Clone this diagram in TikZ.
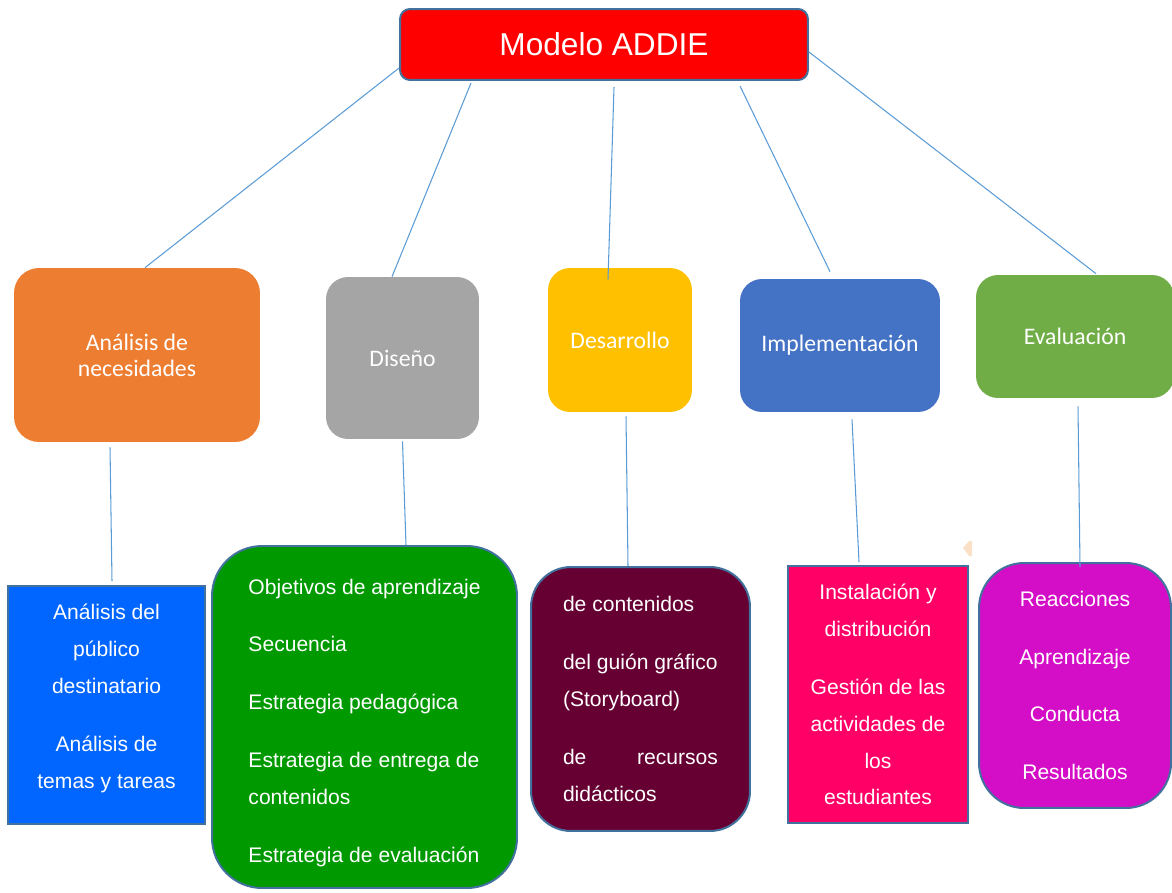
\documentclass[tikz,border=0pt]{standalone}
\usepackage{fontspec}
\setmainfont{Liberation Sans}
\newfontfamily\calibri{Carlito}
\definecolor{addiered}{HTML}{FF0000}
\definecolor{needorange}{HTML}{ED7D31}
\definecolor{designgray}{HTML}{A5A5A5}
\definecolor{devyellow}{HTML}{FFC000}
\definecolor{implblue}{HTML}{4472C4}
\definecolor{evalgreen}{HTML}{70AD47}
\definecolor{audblue}{HTML}{0066FF}
\definecolor{plangreen}{HTML}{009900}
\definecolor{resmaroon}{HTML}{660033}
\definecolor{installpink}{HTML}{FF0066}
\definecolor{levelmagenta}{HTML}{D40DC6}
\definecolor{edgeblue}{HTML}{41719C}
\definecolor{linkblue}{HTML}{5B9BD5}
\definecolor{peach}{HTML}{FBE0C8}
\tikzset{
  stage/.style={rounded corners=0.44cm, inner sep=0pt, text=white, align=center,
                font=\calibri\fontsize{13.5}{14.8}\selectfont},
  task/.style={draw=edgeblue, line width=0.04cm, inner sep=0pt, text=white,
               font=\fontsize{12}{21}\selectfont},
  link/.style={draw=linkblue, line width=0.6pt},
}
\begin{document}
\begin{tikzpicture}[x=0.02cm, y=-0.02cm]
\useasboundingbox (0,0) rectangle (1172,892);

\node[fill=addiered, draw=edgeblue, line width=0.04cm, rounded corners=0.2cm,
      minimum width=8.16cm, minimum height=1.42cm, text=white,
      font=\fontsize{18}{22}\selectfont] (top) at (604,44.5) {Modelo ADDIE};

\node[stage, fill=needorange, rounded corners=0.5cm, minimum width=4.92cm, minimum height=3.48cm]
  (need) at (137,355) {Análisis de\\necesidades};
\node[stage, fill=designgray, minimum width=3.06cm, minimum height=3.24cm]
  (design) at (402.5,358) {Diseño};
\node[stage, fill=devyellow, minimum width=2.88cm, minimum height=2.88cm]
  (develop) at (620,340) {Desarrollo};
\node[stage, fill=implblue, minimum width=4cm, minimum height=2.66cm]
  (implement) at (840,345.5) {Implementación};
\node[stage, fill=evalgreen, minimum width=3.96cm, minimum height=2.46cm]
  (evaluate) at (1075,336.5) {Evaluación};

\node[task, fill=audblue, align=center, minimum width=3.94cm, minimum height=4.76cm]
  (audience) at (106.5,705)
  {Análisis del\\público\\destinatario\\[0.42cm]Análisis de\\temas y tareas\\[-0.38cm]\mbox{}};
\node[task, fill=plangreen, align=left, rounded corners=1cm, minimum width=6.1cm, minimum height=6.84cm]
  (plan) at (364.5,717)
  {\mbox{}\\[-0.2cm]Objetivos de aprendizaje\\[0.42cm]Secuencia\\[0.42cm]Estrategia pedagógica\\[0.42cm]%
   Estrategia de entrega de\\contenidos\\[0.42cm]Estrategia de evaluación};
\node[task, fill=resmaroon, align=left, rounded corners=0.8cm, minimum width=4.38cm, minimum height=5.28cm]
  (resources) at (640.5,699)
  {de contenidos\\[0.42cm]del guión gráfico\\(Storyboard)\\[0.42cm]%
   \hbox to 3.1cm{de\hfill recursos}\\didácticos};
\node[task, fill=installpink, align=center, minimum width=3.6cm, minimum height=5.14cm]
  (install) at (878,694.5)
  {Instalación y\\distribución\\[0.42cm]Gestión de las\\actividades de\\los\\estudiantes};
\node[task, fill=levelmagenta, align=center, rounded corners=0.9cm, minimum width=3.84cm, minimum height=4.9cm]
  (levels) at (1075,685.5)
  {Reacciones\\[0.42cm]Aprendizaje\\[0.42cm]Conducta\\[0.42cm]Resultados};

\fill[peach] (963,548) -- (969,541) -- (972,541) -- (972,556) -- (969,556) -- cycle;

\draw[link] ([yshift=-0.47cm]top.west) -- ([xshift=0.16cm]need.north);
\draw[link] ([xshift=-2.66cm,yshift=-0.04cm]top.south) -- ([xshift=-0.21cm]design.north);
\draw[link] ([xshift=0.2cm,yshift=-0.12cm]top.south) -- ([xshift=-0.24cm,yshift=-0.24cm]develop.north);
\draw[link] ([xshift=2.72cm,yshift=-0.1cm]top.south) -- ([xshift=-0.2cm,yshift=0.14cm]implement.north);
\draw[link] ([yshift=-0.15cm]top.east) -- ([xshift=0.42cm,yshift=0.02cm]evaluate.north);

\draw[link] ([xshift=-0.54cm,yshift=-0.1cm]need.south) -- ([xshift=0.11cm,yshift=0.08cm]audience.north);
\draw[link] ([yshift=-0.04cm]design.south) -- ([xshift=0.83cm]plan.north);
\draw[link] ([xshift=0.12cm,yshift=-0.08cm]develop.south) -- ([xshift=-0.25cm]resources.north);
\draw[link] ([xshift=0.24cm,yshift=-0.14cm]implement.south) -- ([xshift=-0.38cm,yshift=0.06cm]install.north);
\draw[link] ([xshift=0.06cm,yshift=-0.16cm]evaluate.south) -- ([xshift=0.1cm,yshift=-0.1cm]levels.north);
\end{tikzpicture}
\end{document}
